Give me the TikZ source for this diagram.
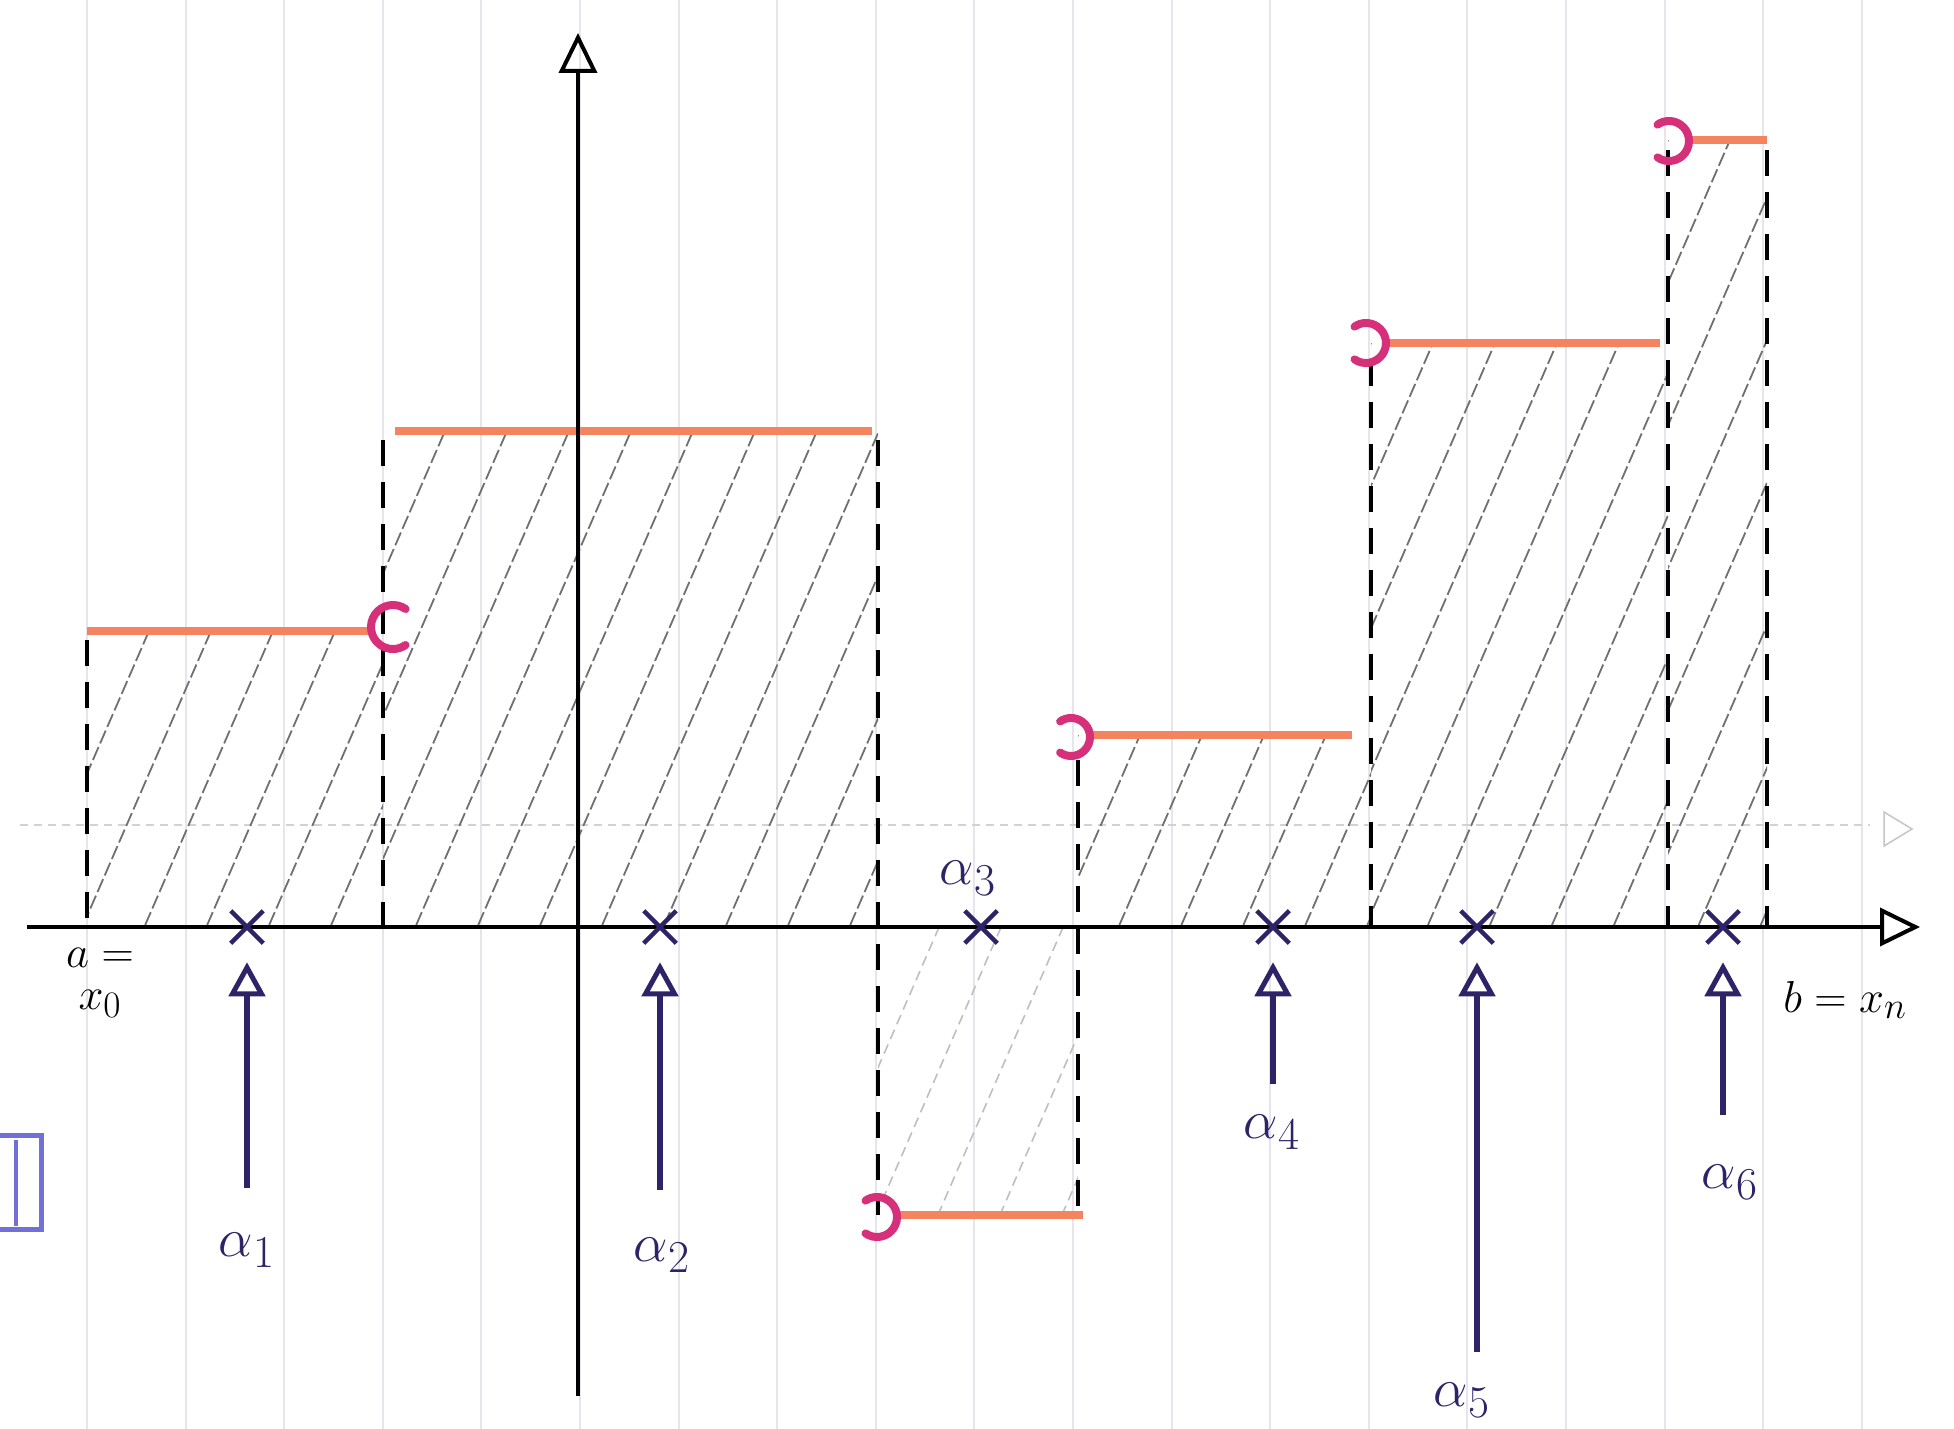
\documentclass[tikz,border=0pt]{standalone}
\usetikzlibrary{arrows.meta,shapes.misc}
\definecolor{navy}{HTML}{2D2468}
\definecolor{stepor}{HTML}{F4845F}
\definecolor{brkmag}{HTML}{D6307A}
\definecolor{gridc}{HTML}{E8E4EE}
\definecolor{hatchc}{HTML}{707070}
\definecolor{boxblue}{HTML}{7070D8}
\newcommand{\hatchrect}[5]{%
 \begin{scope}
 \clip (#1,#2) rectangle (#3,#4);
 \pgfmathsetmacro{\hh}{(#4-#2)/2.3}
 \foreach \k in {0,...,16}{%
   \pgfmathsetmacro{\cc}{#1-\hh+\k*62}
   \draw[#5] (\cc,#4) -- ++(\hh,#2-#4);
 }
 \end{scope}}
\newcommand{\biglab}[1]{\scalebox{2.2}{\Huge$#1$}}
\newcommand{\bigtxt}[1]{\scalebox{1.8}{\Huge$#1$}}
\begin{document}
\begin{tikzpicture}[x=1pt,y=-1pt,
  gridline/.style={gridc,line width=2pt},
  axisline/.style={black,line width=4.5pt,-{Triangle[open,length=40pt,width=38pt,line width=4pt]}},
  stepline/.style={stepor,line width=8pt},
  bracket/.style={brkmag,line width=8pt,line cap=round},
  dashv/.style={black,line width=4pt,dash pattern=on 26pt off 16pt},
  hatch/.style={hatchc,line width=1.8pt,dash pattern=on 14pt off 4pt},
  hatchlight/.style={hatchc!45,line width=1.6pt,dash pattern=on 10pt off 6pt},
  tag/.style={cross out,draw=navy,line width=4.5pt,minimum size=28pt,inner sep=0pt},
  upar/.style={navy,line width=6pt,shorten >=19pt,-{Triangle[open,length=34pt,width=36pt,line width=5pt]}},
  lab/.style={navy,inner sep=0pt},
  txt/.style={black,inner sep=0pt}
]
\fill[white] (0,0) rectangle (1954,1429);
\useasboundingbox (0,0) rectangle (1954,1429);
% graph paper
\foreach \k in {0,...,19} \draw[gridline] ({87+98.6*\k},0) -- ({87+98.6*\k},1429);
\draw[gray!35,line width=1.5pt,dash pattern=on 8pt off 6pt] (20,825) -- (1870,825);
\draw[gray!45,line width=1.5pt] (1884,812) -- (1912,829) -- (1884,846) -- cycle;
% hatching
\hatchrect{87}{631}{383}{925}{hatch}
\hatchrect{383}{431}{878}{925}{hatch}
\hatchrect{878}{925}{1078}{1215}{hatchlight}
\hatchrect{1078}{735}{1371}{925}{hatch}
\hatchrect{1371}{343}{1668}{925}{hatch}
\hatchrect{1668}{140}{1767}{925}{hatch}
% dashed verticals
\draw[dashv] (87,640) -- (87,925);
\draw[dashv] (383,440) -- (383,940);
\draw[dashv] (878,440) -- (878,1215);
\draw[dashv] (1078,760) -- (1078,1215);
\draw[dashv] (1371,360) -- (1371,925);
\draw[dashv] (1668,150) -- (1668,925);
\draw[dashv] (1767,150) -- (1767,925);
% steps
\draw[stepline] (87,631) -- (372,631);
\draw[stepline] (395,431) -- (872,431);
\draw[stepline] (898,1215) -- (1083,1215);
\draw[stepline] (1092,735) -- (1352,735);
\draw[stepline] (1388,343) -- (1660,343);
\draw[stepline] (1692,140) -- (1767,140);
% brackets
\draw[bracket] (393,627) ++(55:22pt) arc[start angle=55,end angle=305,radius=22pt];
\draw[bracket] (877,1217) ++(-125:20pt) arc[start angle=-125,end angle=125,radius=20pt];
\draw[bracket] (1071,737) ++(-125:19pt) arc[start angle=-125,end angle=125,radius=19pt];
\draw[bracket] (1366,343) ++(-125:20pt) arc[start angle=-125,end angle=125,radius=20pt];
\draw[bracket] (1669,141) ++(-125:20pt) arc[start angle=-125,end angle=125,radius=20pt];
% axes
\coordinate (xs) at (27,927);
\coordinate (xe) at (1920,927);
\coordinate (ys) at (578,1396);
\coordinate (ye) at (578,33);
\draw[axisline] (xs) -- (xe);
\draw[axisline] (ys) -- (ye);
% tags
\node[tag] (t1) at (247,927) {};
\node[tag] (t2) at (660,927) {};
\node[tag] (t3) at (981,927) {};
\node[tag] (t4) at (1273,927) {};
\node[tag] (t5) at (1477,927) {};
\node[tag] (t6) at (1723,927) {};
% labels
\node[lab] (a1) at (247,1250) {\biglab{\alpha_1}};
\node[lab] (a2) at (662,1255) {\biglab{\alpha_2}};
\node[lab] (a3) at (968,878) {\biglab{\alpha_3}};
\node[lab] (a4) at (1272,1132) {\biglab{\alpha_4}};
\node[lab] (a5) at (1462,1400) {\biglab{\alpha_5}};
\node[lab] (a6) at (1730,1182) {\biglab{\alpha_6}};
\node[txt] (ax0a) at (100,958) {\bigtxt{a=}};
\node[txt] (ax0b) at (100,1004) {\bigtxt{x_0}};
\node[txt] (bxn) at (1845,1000) {\bigtxt{b=x_n}};
% arrows
\coordinate (s1) at (247,1188);
\coordinate (s2) at (660,1190);
\coordinate (s4) at (1273,1084);
\coordinate (s5) at (1477,1352);
\coordinate (s6) at (1723,1115);
\draw[upar] (s1) -- (t1);
\draw[upar] (s2) -- (t2);
\draw[upar] (s4) -- (t4);
\draw[upar] (s5) -- (t5);
\draw[upar] (s6) -- (t6);
% blue box at left edge
\draw[boxblue,line width=5pt] (-10,1135) rectangle (41,1229);
\draw[boxblue,line width=4pt] (16,1140) -- (16,1226);
\end{tikzpicture}
\end{document}
